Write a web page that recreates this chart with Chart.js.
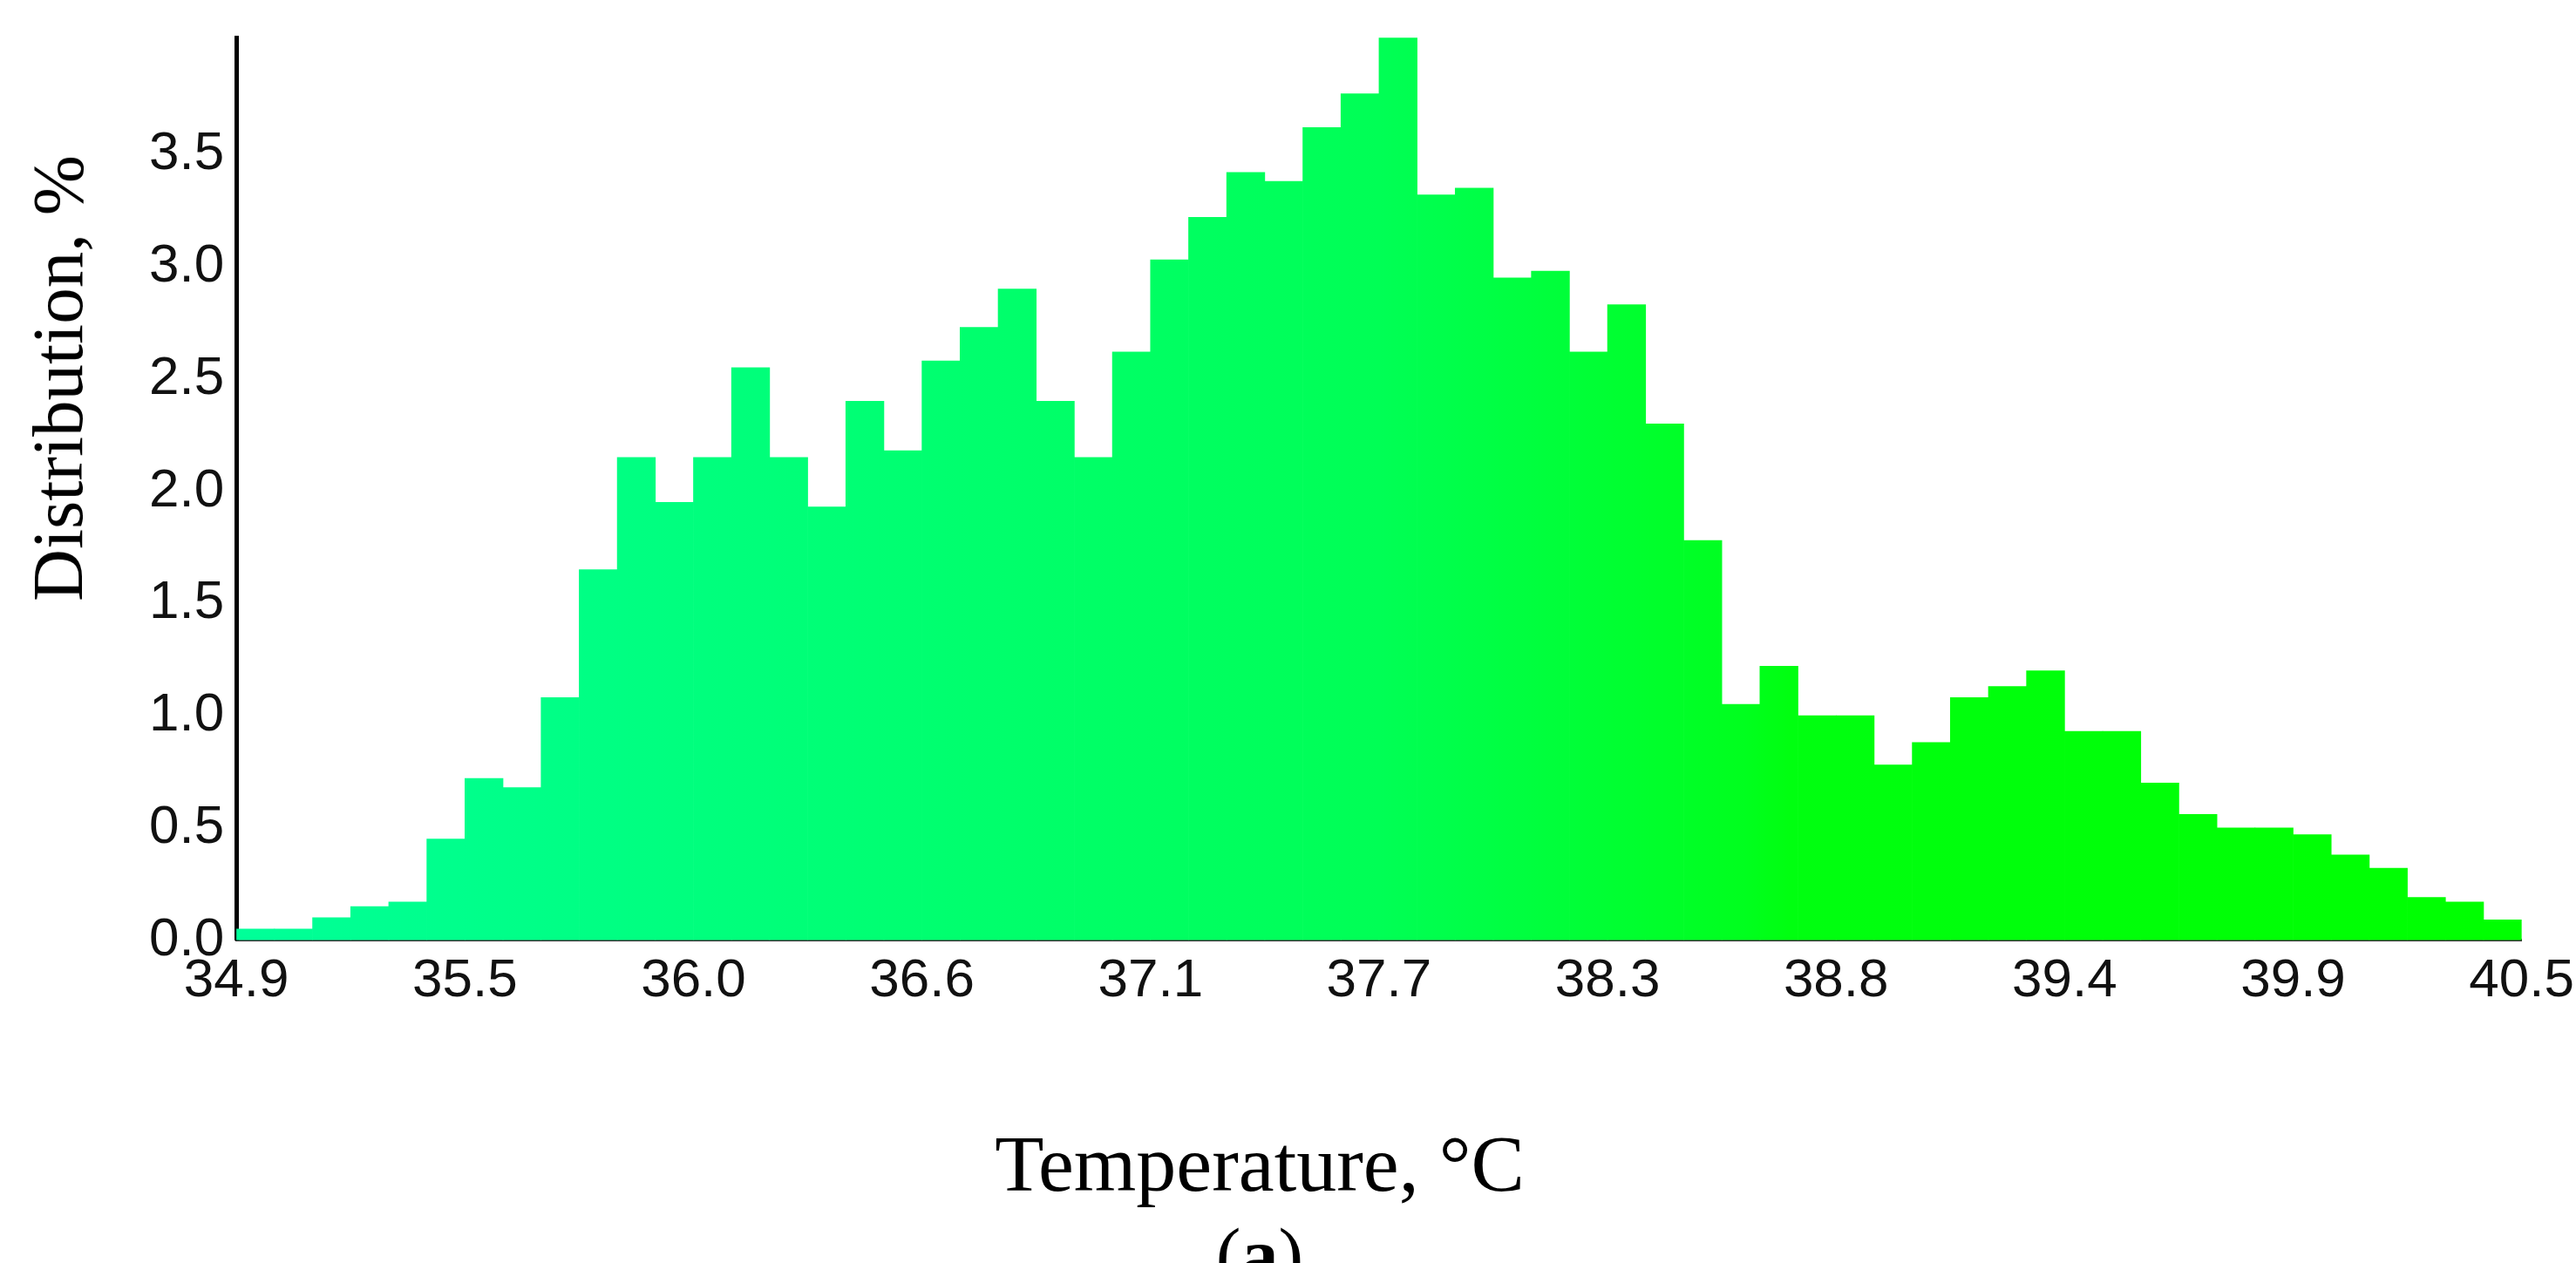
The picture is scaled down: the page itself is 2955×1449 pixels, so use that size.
<!DOCTYPE html>
<html>
<head>
<meta charset="utf-8">
<script src="https://cdn.jsdelivr.net/npm/chart.js@4"></script>
<style>
  body { margin: 0; background: #fff; width: 2955px; height: 1449px; position: relative; overflow: hidden; }
  #wrap { position: absolute; left: 0; top: 0; width: 2955px; height: 1165px; }
  .serif { font-family: "Liberation Serif", "DejaVu Serif", serif; color: #000; position: absolute; }
  #ytitle { left: 66px; top: 434px; font-size: 83px; transform: translate(-50%, -50%) rotate(-90deg); white-space: nowrap; }
  #xtitle { left: 1445px; top: 1335px; font-size: 92px; transform: translate(-50%, -50%); white-space: nowrap; }
  #sub { left: 1445px; top: 1440px; font-size: 86px; transform: translate(-50%, -50%); }
</style>
</head>
<body>
<div id="wrap"><canvas id="grafico"></canvas></div>
<div id="ytitle" class="serif">Distribution, %</div>
<div id="xtitle" class="serif">Temperature, °C</div>
<div id="sub" class="serif">(<b>a</b>)</div>
<script>
// 60 classes de temperatura entre 34.9 e 40.5 °C
const VALORES = [
  0.05, 0.05, 0.10, 0.15, 0.17, 0.45, 0.72, 0.68, 1.08, 1.65,
  2.15, 1.95, 2.15, 2.55, 2.15, 1.93, 2.40, 2.18, 2.58, 2.73,
  2.90, 2.40, 2.15, 2.62, 3.03, 3.22, 3.42, 3.38, 3.62, 3.77,
  4.02, 3.32, 3.35, 2.95, 2.98, 2.62, 2.83, 2.30, 1.78, 1.05,
  1.22, 1.00, 1.00, 0.78, 0.88, 1.08, 1.13, 1.20, 0.93, 0.93,
  0.70, 0.56, 0.50, 0.50, 0.47, 0.38, 0.32, 0.19, 0.17, 0.09
];
const ROTULOS_X = ['34.9', '35.5', '36.0', '36.6', '37.1', '37.7', '38.3', '38.8', '39.4', '39.9', '40.5'];

function gradiente(context) {
  const area = context.chart.chartArea;
  if (!area) return '#00ff60';
  const g = context.chart.ctx.createLinearGradient(area.left, 0, area.right, 0);
  g.addColorStop(0, '#00ff99');
  g.addColorStop(0.5, '#00ff55');
  g.addColorStop(0.66, '#00ff1e');
  g.addColorStop(0.68, '#00ff10');
  g.addColorStop(1, '#00ff00');
  return g;
}

const fonteTicks = { family: '"Liberation Sans", Arial, sans-serif', size: 62 };

new Chart(document.getElementById('grafico'), {
  type: 'bar',
  data: {
    datasets: [{
      data: VALORES.map((v, i) => ({ x: i + 0.5, y: v })),
      backgroundColor: gradiente,
      borderWidth: 0,
      barPercentage: 1,
      categoryPercentage: 1
    }]
  },
  options: {
    responsive: true,
    maintainAspectRatio: false,
    animation: false,
    layout: { padding: { left: 165, right: 40, top: 20, bottom: 0 } },
    plugins: { legend: { display: false }, tooltip: { enabled: false } },
    scales: {
      x: {
        type: 'linear',
        min: 0, max: 60,
        offset: false,
        ticks: {
          stepSize: 6,
          color: '#111',
          font: fonteTicks,
          maxRotation: 0,
          padding: 2,
          callback: v => ROTULOS_X[v / 6]
        },
        grid: { display: false, drawTicks: true },
        border: { color: '#333', width: 3 }
      },
      y: {
        min: 0, max: 4.02,
        ticks: {
          stepSize: 0.5,
          color: '#111',
          font: fonteTicks,
          padding: 6,
          callback: v => (v > 3.6 ? '' : v.toFixed(1))
        },
        grid: { display: false },
        border: { color: '#000', width: 5 }
      }
    }
  }
});
</script>
</body>
</html>
